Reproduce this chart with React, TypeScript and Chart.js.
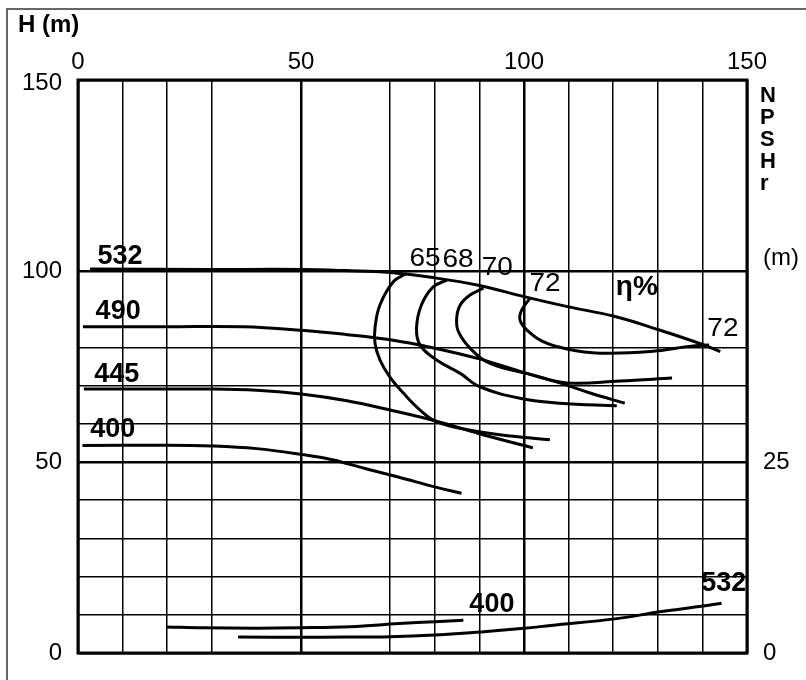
import React, { useEffect, useRef } from 'react';
import { Chart, registerables } from 'chart.js';

Chart.register(...registerables);

// ---- axis tick labels ----
const qTickLabels = [0, 50, 100, 150];        // flow (top)
const hTickLabels = [0, 50, 100, 150];        // head H (m), left
const npshTickLabels = [0, 25];               // NPSHr (m), right
const qGridSkip = [40, 60];
const hGridSkip = [90, 110, 120, 130, 140];

// ---- H-Q curves for impeller diameters (Q, H) ----
const h532 = [[2.7, 100.5], [30, 100.4], [50, 100.4], [60, 100.1], [70, 99.6], [80, 98.2], [90, 96.2], [100, 93.3], [110, 90.6], [120, 88.2], [130, 84.7], [140, 80.8], [144, 78.9]];
const h490 = [[1.1, 85.4], [20, 85.4], [37, 85.4], [50, 84.5], [60, 83.4], [70, 82], [80, 79.8], [90, 77], [100, 73.4], [108, 70.7], [115, 68], [122.6, 65.4]];
const h445 = [[1.3, 69.1], [30, 69.1], [40, 68.8], [50, 67.8], [60, 66.1], [70, 63.6], [80, 60.8], [90, 57.4], [102, 53.7]];
const h400 = [[1, 54.3], [20, 54.4], [30, 54.2], [40, 53.5], [50, 52], [57, 50.6], [65, 48.1], [72, 46], [80, 43.5], [86, 41.8]];

// ---- iso-efficiency curves (Q, H) ----
const eff65 = [[73.7, 99.4], [70.7, 97.2], [67.7, 91.1], [66.6, 85.2], [66.6, 81], [67.7, 76.7], [69.9, 72.3], [72.9, 68.1], [76.7, 63.6], [80.5, 60.5], [88, 58.3], [97, 56.8], [105.8, 55.8]];
const eff68 = [[82.7, 97.6], [79.7, 95.9], [77, 91.1], [75.9, 85], [76.7, 80.6], [80.4, 76.7], [85.7, 73.2], [90.1, 69.7], [99.1, 66.7], [108, 65.4], [120.8, 64.7]];
const eff70 = [[90.9, 95.5], [87.9, 93.7], [85.7, 91.1], [84.9, 87.6], [85.3, 84.1], [87.9, 79.8], [92.4, 75.8], [101.3, 73], [109.6, 70.7], [121.5, 71.2], [133.2, 72]];
const eff72 = [[101.3, 92.8], [99.5, 89.8], [99.1, 87.2], [100.6, 84.6], [104.3, 81.5], [109.6, 79.6], [117, 78.5], [128.3, 78.9], [138, 80.4], [141.5, 80.6]];

// ---- NPSHr curves (Q, NPSHr m) ----
const npsh400 = [[19.9, 3.4], [28, 3.3], [40, 3.25], [50, 3.3], [61, 3.45], [72, 3.85], [80, 4.1], [86.4, 4.3]];
const npsh532 = [[35.9, 2.1], [50, 2.05], [60, 2.08], [70, 2.13], [80, 2.36], [91, 2.79], [100, 3.23], [106, 3.6], [120.8, 4.5], [130.5, 5.4], [140.2, 6.15], [144.3, 6.5]];

// ---- curve annotations: text, anchor (Q, H) ----
const curveLabels: [string, number, number, string][] = [
  ['532', 9.4, 103.9, 'b'],
  ['490', 9.0, 89.3, 'b'],
  ['445', 8.7, 73.0, 'b'],
  ['400', 7.8, 58.4, 'b'],
  ['65', 77.8, 103.1, 'r'],
  ['68', 85.2, 102.9, 'r'],
  ['70', 94.0, 100.8, 'r'],
  ['72', 104.7, 96.6, 'r'],
  ['η%', 125.3, 95.8, 'e'],
  ['72', 144.6, 84.8, 'r'],
  ['400', 92.8, 12.6, 'b'],
  ['532', 144.8, 18.3, 'b'],
];

const FONT = '"Liberation Sans", Arial, Helvetica, sans-serif';

function txt(ctx: CanvasRenderingContext2D, s: string, x: number, y: number, font: string, align: CanvasTextAlign = 'center', sx = 1) {
  ctx.save();
  ctx.font = font;
  ctx.fillStyle = '#000';
  ctx.textAlign = align;
  ctx.textBaseline = 'middle';
  ctx.translate(x, y);
  ctx.scale(sx, 1);
  ctx.fillText(s, 0, 0);
  ctx.restore();
}

const pumpPlugin = {
  id: 'pumpDecor',
  beforeDraw(chart: any) {
    const ctx = chart.ctx as CanvasRenderingContext2D;
    ctx.save();
    ctx.fillStyle = '#fff';
    ctx.fillRect(0, 0, chart.width, chart.height);
    ctx.strokeStyle = '#666';
    ctx.lineWidth = 2;
    ctx.beginPath();
    ctx.moveTo(7, chart.height + 5);
    ctx.lineTo(7, 9);
    ctx.lineTo(chart.width + 5, 9);
    ctx.stroke();
    ctx.restore();
  },
  afterDatasetsDraw(chart: any) {
    const ctx = chart.ctx as CanvasRenderingContext2D;
    const a = chart.chartArea;
    const sx = chart.scales.x;
    const sy = chart.scales.y;
    const sy2 = chart.scales.y2;
    ctx.save();
    ctx.strokeStyle = '#000';
    ctx.lineWidth = 3;
    ctx.strokeRect(a.left, a.top, a.right - a.left, a.bottom - a.top);
    ctx.restore();

    const tickFont = `24px ${FONT}`;
    qTickLabels.forEach(v => txt(ctx, String(v), sx.getPixelForValue(v), a.top - 18, tickFont, 'center'));
    hTickLabels.forEach(v => txt(ctx, String(v), a.left - 16, sy.getPixelForValue(v) + (v === 150 ? 3 : 0), tickFont, 'right'));
    npshTickLabels.forEach(v => txt(ctx, String(v), a.right + 16, sy2.getPixelForValue(v), tickFont, 'left'));

    txt(ctx, 'H (m)', 18, 25, `bold 24px ${FONT}`, 'left');
    ['N', 'P', 'S', 'H', 'r'].forEach((c, i) => txt(ctx, c, a.right + 13, 96 + i * 22, `bold 22px ${FONT}`, 'left'));
    txt(ctx, '(m)', a.right + 16, 258, tickFont, 'left');

    curveLabels.forEach(([t, q, h, k]) => {
      const x = sx.getPixelForValue(q);
      const y = sy.getPixelForValue(h);
      if (k === 'b') txt(ctx, t, x, y, `bold 27px ${FONT}`, 'center');
      else if (k === 'e') txt(ctx, t, x, y, `bold 28px ${FONT}`, 'center');
      else txt(ctx, t, x, y, `25px ${FONT}`, 'center', 1.12);
    });
  },
};

function ds(pts: number[][], axis = 'y') {
  return {
    data: pts.map(([x, y]) => ({ x, y })),
    yAxisID: axis,
    borderColor: '#000',
    borderWidth: 3,
    pointRadius: 0,
    tension: 0.4,
    fill: false,
  };
}

export default function App() {
  const ref = useRef<HTMLCanvasElement>(null);
  useEffect(() => {
    if (!ref.current) return;
    const chart = new Chart(ref.current, {
      type: 'line',
      data: {
        datasets: [
          ds(h532), ds(h490), ds(h445), ds(h400),
          ds(eff65), ds(eff68), ds(eff70), ds(eff72),
          ds(npsh400, 'y2'), ds(npsh532, 'y2'),
        ],
      },
      options: {
        animation: false,
        responsive: false,
        devicePixelRatio: 1,
        layout: { padding: { left: 78, top: 80, right: 59, bottom: 27 } },
        plugins: { legend: { display: false }, tooltip: { enabled: false } },
        scales: {
          x: {
            type: 'linear', min: 0, max: 150, position: 'top',
            ticks: { display: false, stepSize: 10 },
            border: { display: false },
            grid: {
              drawTicks: false,
              color: (c: any) => (qGridSkip.includes(c.tick?.value) ? 'rgba(0,0,0,0)' : '#000'),
              lineWidth: (c: any) => (c.tick?.value % 50 === 0 ? 2.5 : 1.5),
            },
          },
          y: {
            type: 'linear', min: 0, max: 150, position: 'left',
            ticks: { display: false, stepSize: 10 },
            border: { display: false },
            grid: {
              drawTicks: false,
              color: (c: any) => (hGridSkip.includes(c.tick?.value) ? 'rgba(0,0,0,0)' : '#000'),
              lineWidth: (c: any) => (c.tick?.value % 50 === 0 ? 2.5 : 1.5),
            },
          },
          y2: { type: 'linear', min: 0, max: 75, position: 'right', display: false },
        },
      } as any,
      plugins: [pumpPlugin],
    });
    return () => chart.destroy();
  }, []);
  return (
    <div style={{ position: 'absolute', left: 0, top: 0, width: 806, height: 680, background: '#fff' }}>
      <canvas ref={ref} width={806} height={680} style={{ display: 'block' }} />
    </div>
  );
}
